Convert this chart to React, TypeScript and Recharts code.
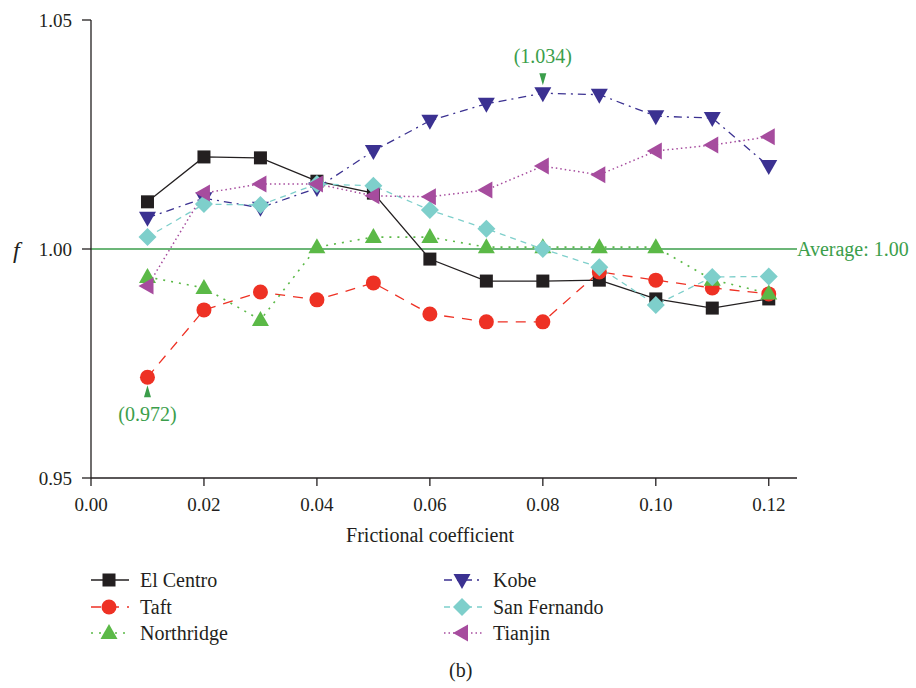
import React from 'react';
import { LineChart, Line, XAxis, YAxis, ReferenceLine, ReferenceDot } from 'recharts';

const frictionCoefficients = [0.01, 0.02, 0.03, 0.04, 0.05, 0.06, 0.07, 0.08, 0.09, 0.1, 0.11, 0.12];

const elCentro = [1.0103, 1.0201, 1.0199, 1.0148, 1.0122, 0.9978, 0.993, 0.993, 0.9932, 0.9891, 0.9871, 0.9891];
const taft = [0.972, 0.9867, 0.9906, 0.9889, 0.9926, 0.9858, 0.9841, 0.9841, 0.995, 0.9932, 0.9915, 0.9902];
const northridge = [0.9939, 0.9915, 0.9845, 1.0004, 1.0026, 1.0026, 1.0004, 1.0004, 1.0004, 1.0004, 0.9933, 0.9903];
const kobe = [1.0068, 1.0111, 1.009, 1.0133, 1.0214, 1.028, 1.0317, 1.034, 1.0337, 1.029, 1.0286, 1.0181];
const sanFernando = [1.0026, 1.0098, 1.0096, 1.0142, 1.0138, 1.0085, 1.0044, 1.0, 0.996, 0.9878, 0.9939, 0.994];
const tianjin = [0.9919, 1.0122, 1.0142, 1.0142, 1.0116, 1.0114, 1.0129, 1.0181, 1.0162, 1.0214, 1.0227, 1.0245];

const xTicks = [0, 0.02, 0.04, 0.06, 0.08, 0.1, 0.12];
const yTicks = [0.95, 1.0, 1.05];
const average = 1.0;

const data = frictionCoefficients.map((mu, i) => ({
  mu,
  elCentro: elCentro[i],
  taft: taft[i],
  northridge: northridge[i],
  kobe: kobe[i],
  sanFernando: sanFernando[i],
  tianjin: tianjin[i],
}));

const FONT = '"Liberation Serif", "DejaVu Serif", serif';
const INK = '#231f20';
const ANNOT = '#3b9e4b';

type Shape = 'square' | 'circle' | 'up' | 'down' | 'diamond' | 'left';

const Marker = ({ shape, cx, cy, color }: { shape: Shape; cx: number; cy: number; color: string }) => {
  switch (shape) {
    case 'square':
      return <rect x={cx - 6.5} y={cy - 6.5} width={13} height={13} fill={color} />;
    case 'circle':
      return <circle cx={cx} cy={cy} r={7.5} fill={color} />;
    case 'up':
      return <polygon points={`${cx},${cy - 9} ${cx + 8.5},${cy + 6} ${cx - 8.5},${cy + 6}`} fill={color} />;
    case 'down':
      return <polygon points={`${cx},${cy + 9} ${cx + 8.5},${cy - 6} ${cx - 8.5},${cy - 6}`} fill={color} />;
    case 'diamond':
      return <polygon points={`${cx},${cy - 9} ${cx + 9},${cy} ${cx},${cy + 9} ${cx - 9},${cy}`} fill={color} />;
    case 'left':
      return <polygon points={`${cx - 9},${cy} ${cx + 6},${cy - 8.5} ${cx + 6},${cy + 8.5}`} fill={color} />;
  }
};

const series: { key: string; name: string; color: string; dash?: string; width: number; shape: Shape }[] = [
  { key: 'elCentro', name: 'El Centro', color: INK, width: 1.3, shape: 'square' },
  { key: 'taft', name: 'Taft', color: '#ee3124', dash: '10 8', width: 1.3, shape: 'circle' },
  { key: 'northridge', name: 'Northridge', color: '#5bb947', dash: '2 6', width: 1.6, shape: 'up' },
  { key: 'kobe', name: 'Kobe', color: '#3b3191', dash: '8 5 2 5', width: 1.3, shape: 'down' },
  { key: 'sanFernando', name: 'San Fernando', color: '#7ecfcb', dash: '6 5', width: 1.3, shape: 'diamond' },
  { key: 'tianjin', name: 'Tianjin', color: '#a64c9e', dash: '1.5 3', width: 1.5, shape: 'left' },
];

const peakIdx = kobe.indexOf(Math.max(...kobe));
const lowIdx = taft.indexOf(Math.min(...taft));

// small arrow + value callout above or below a point
const Callout = ({ cx, cy, text, below }: { cx?: number; cy?: number; text: string; below?: boolean }) => {
  if (cx == null || cy == null) return null;
  const s = below ? 1 : -1;
  const a0 = cy + s * 8;
  const a1 = cy + s * 20;
  return (
    <g>
      <polygon points={`${cx - 3.5},${a0} ${cx + 3.5},${a0} ${cx},${a1}`} fill={ANNOT} transform={`rotate(180 ${cx} ${(a0 + a1) / 2})`} />
      <text x={cx} y={cy + s * 37} textAnchor="middle" dominantBaseline="central" fontFamily={FONT} fontSize={20} fill={ANNOT}>
        {text}
      </text>
    </g>
  );
};

const LegendIcon = ({ color, dash, width, shape }: { color: string; dash?: string; width: number; shape: Shape }) => (
  <svg width={38} height={20} style={{ display: 'block' }}>
    <line x1={0} y1={10} x2={38} y2={10} stroke={color} strokeWidth={width} strokeDasharray={dash} />
    <Marker shape={shape} cx={18} cy={10} color={color} />
  </svg>
);

export default function App() {
  const tick = { fill: INK, fontSize: 19, fontFamily: FONT };
  return (
    <div style={{ position: 'absolute', left: 0, top: 0, width: 916, height: 688, background: '#fff', fontFamily: FONT, color: INK }}>
      <LineChart width={916} height={530} data={data} margin={{ top: 20, right: 119, bottom: 2, left: 0 }}>
        <XAxis
          dataKey="mu"
          type="number"
          domain={[0, 0.125]}
          ticks={xTicks}
          tickFormatter={(v: number) => v.toFixed(2)}
          height={50}
          tickSize={8}
          tickMargin={12}
          tick={tick}
          stroke={INK}
          strokeWidth={1.3}
        />
        <YAxis
          type="number"
          domain={[0.95, 1.05]}
          ticks={yTicks}
          tickFormatter={(v: number) => v.toFixed(2)}
          width={91}
          tickSize={9}
          tickMargin={10}
          tick={tick}
          stroke={INK}
          strokeWidth={1.3}
          label={{ value: 'f', position: 'insideLeft', offset: 13, style: { fontStyle: 'italic', fontSize: 24, fontFamily: FONT, fill: INK } }}
        />
        <ReferenceLine
          y={average}
          stroke={ANNOT}
          strokeWidth={1.3}
          label={{ value: `Average: ${average.toFixed(2)}`, position: 'right', offset: 0, fill: ANNOT, fontSize: 20, fontFamily: FONT }}
        />
        {series.map((s) => (
          <Line
            key={s.key}
            dataKey={s.key}
            name={s.name}
            type="linear"
            stroke={s.color}
            strokeWidth={s.width}
            strokeDasharray={s.dash}
            isAnimationActive={false}
            dot={(p: any) => <Marker key={`${s.key}-${p.index}`} shape={s.shape} cx={p.cx} cy={p.cy} color={s.color} />}
            activeDot={false}
          />
        ))}
        <ReferenceDot
          x={frictionCoefficients[peakIdx]}
          y={kobe[peakIdx]}
          r={0}
          shape={(p: any) => <Callout cx={p.cx} cy={p.cy} text={`(${kobe[peakIdx].toFixed(3)})`} />}
        />
        <ReferenceDot
          x={frictionCoefficients[lowIdx]}
          y={taft[lowIdx]}
          r={0}
          shape={(p: any) => <Callout cx={p.cx} cy={p.cy} text={`(${taft[lowIdx].toFixed(3)})`} below />}
        />
      </LineChart>

      <div style={{ position: 'absolute', left: 0, width: 860, top: 524, textAlign: 'center', fontSize: 20 }}>
        Frictional coefficient
      </div>

      {series.map((s, i) => {
        const col = i < 3 ? 0 : 1;
        const row = i % 3;
        return (
          <div
            key={s.key}
            style={{
              position: 'absolute',
              left: col === 0 ? 91 : 444,
              top: 567 + row * 26.7,
              display: 'flex',
              alignItems: 'center',
              fontSize: 20,
              lineHeight: '26px',
            }}
          >
            <LegendIcon color={s.color} dash={s.dash} width={s.width} shape={s.shape} />
            <span style={{ marginLeft: 11 }}>{s.name}</span>
          </div>
        );
      })}

      <div style={{ position: 'absolute', left: 449, top: 659, fontSize: 20 }}>(b)</div>
    </div>
  );
}
